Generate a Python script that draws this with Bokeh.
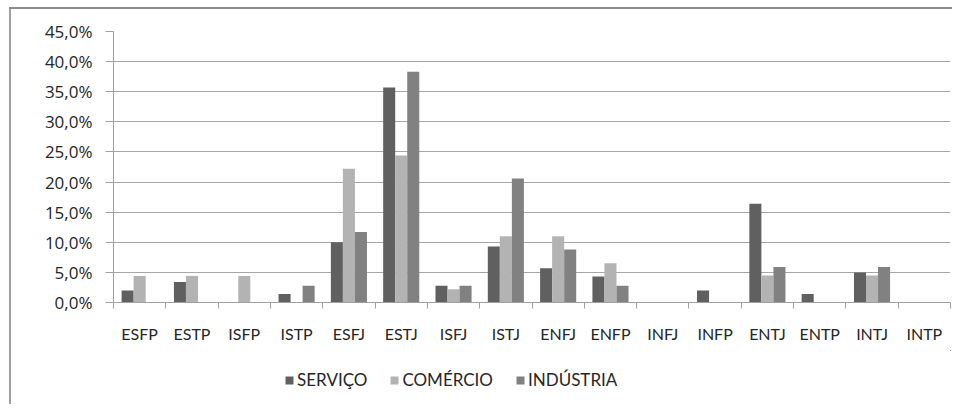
from bokeh.plotting import figure
from bokeh.models import Range1d, FixedTicker, Legend, LegendItem
from bokeh.layouts import column
from bokeh.embed import file_html
from bokeh.resources import INLINE

categories = ["ESFP", "ESTP", "ISFP", "ISTP", "ESFJ", "ESTJ", "ISFJ", "ISTJ",
              "ENFJ", "ENFP", "INFJ", "INFP", "ENTJ", "ENTP", "INTJ", "INTP"]
servico = [2.0, 3.4, 0.0, 1.4, 10.0, 35.7, 2.8, 9.3, 5.7, 4.3, 0.0, 2.0, 16.4, 1.4, 5.0, 0.0]
comercio = [4.4, 4.4, 4.4, 0.0, 22.2, 24.4, 2.2, 11.0, 11.0, 6.5, 0.0, 0.0, 4.5, 0.0, 4.5, 0.0]
industria = [0.0, 0.0, 0.0, 2.8, 11.7, 38.3, 2.8, 20.6, 8.8, 2.8, 0.0, 0.0, 5.9, 0.0, 5.9, 0.0]
series_names = ["SERVIÇO", "COMÉRCIO", "INDÚSTRIA"]
y_ticks = [0, 5, 10, 15, 20, 25, 30, 35, 40, 45]

colors = ["#606060", "#b3b3b3", "#818181"]
FONT = "Lato"
YFONT = "Open Sans"
TXT = "#262626"
FS = "16px"

n = len(categories)
series = [servico, comercio, industria]
W = 952
H1, H2 = 350, 54

# ---------------- chart ----------------
p = figure(width=W, height=H1, output_backend="svg", toolbar_location=None,
           x_range=Range1d(0, n), y_range=Range1d(0, 45),
           min_border_left=113, min_border_right=2, min_border_top=31, min_border_bottom=48)
p.outline_line_color = None
p.background_fill_color = "white"
p.border_fill_alpha = 0

bw = 0.23
for k, (vals, col) in enumerate(zip(series, colors)):
    xs = [i + 0.5 + (k - 1) * bw for i in range(n)]
    p.vbar(x=xs, top=vals, width=bw, bottom=0, fill_color=col, line_color=None)

# x axis: labels centred on categories, tick marks at category boundaries
centers = [i + 0.5 for i in range(n)]
p.xaxis.ticker = FixedTicker(ticks=centers, minor_ticks=list(range(n + 1)))
p.xaxis.major_label_overrides = {c: name for c, name in zip(centers, categories)}
p.xaxis.major_tick_line_color = None
p.xaxis.major_tick_out = 0
p.xaxis.major_tick_in = 0
p.xaxis.minor_tick_line_color = "#a0a0a0"
p.xaxis.minor_tick_out = 6
p.xaxis.minor_tick_in = 0
p.xaxis.axis_line_color = "#a0a0a0"
p.xaxis.major_label_standoff = 15
p.xaxis.major_label_text_font = FONT
p.xaxis.major_label_text_font_size = FS
p.xaxis.major_label_text_color = TXT
p.xgrid.grid_line_color = None

# y axis
p.yaxis.ticker = FixedTicker(ticks=y_ticks, minor_ticks=[])
p.yaxis.major_label_overrides = {t: f"{t:.1f}%".replace(".", ",") for t in y_ticks}
p.yaxis.major_tick_out = 8
p.yaxis.major_tick_in = 0
p.yaxis.major_tick_line_color = "#a0a0a0"
p.yaxis.axis_line_color = "#a0a0a0"
p.yaxis.major_label_standoff = 13
p.yaxis.major_label_text_font = YFONT
p.yaxis.major_label_text_font_size = "17px"
p.yaxis.major_label_text_color = TXT
p.ygrid.grid_line_color = "#a6a6a6"
p.ygrid.grid_line_width = 1

# ---------------- legend strip ----------------
# same series drawn again, but far outside this strip's visible ranges, so only the legend shows
lp = figure(width=W, height=H2, output_backend="svg", toolbar_location=None,
            x_range=Range1d(-3 * n, -2 * n), y_range=Range1d(-1000, -999),
            x_axis_location=None, y_axis_location=None,
            min_border_left=0, min_border_right=0, min_border_top=0, min_border_bottom=0)
lp.outline_line_color = None
lp.background_fill_alpha = 0
lp.border_fill_alpha = 0
lp.xgrid.grid_line_color = None
lp.ygrid.grid_line_color = None
leg_renderers = [lp.vbar(x=centers, top=vals, bottom=0, width=bw, fill_color=col, line_color=None)
                 for vals, col in zip(series, colors)]
legend = Legend(items=[LegendItem(label=nm, renderers=[r]) for nm, r in zip(series_names, leg_renderers)],
                orientation="horizontal", location=(171, 14),
                glyph_width=10, glyph_height=10, label_standoff=3, spacing=22,
                padding=0, margin=0, border_line_color=None, background_fill_alpha=0,
                label_text_font=FONT, label_text_font_size="17px", label_text_color=TXT)
lp.add_layout(legend, "center")

layout = column(p, lp, spacing=0)
# outer chart border (only its top and left edges fall inside the view)
layout.styles = {
    "background": ("linear-gradient(#8c8c8c, #8c8c8c) 9px 7px / 100% 2px no-repeat, "
                   "linear-gradient(#a0a0a0, #a0a0a0) 9px 7px / 2px 100% no-repeat, white"),
}

open("out.html", "w").write(file_html(layout, INLINE))
